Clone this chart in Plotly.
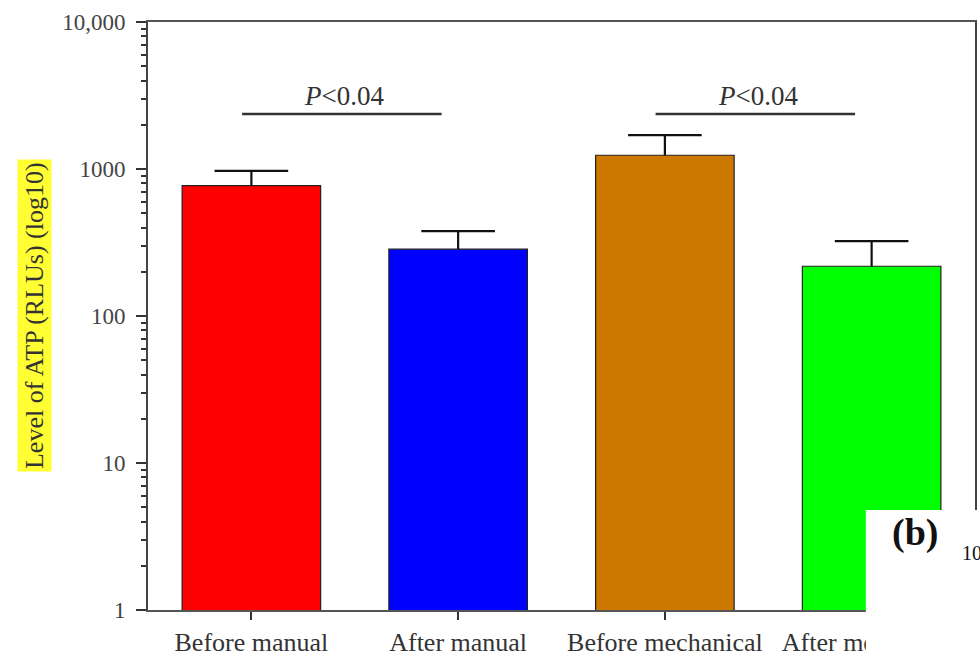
import numpy as np
import plotly.graph_objects as go

# ATP bioluminescence levels before/after cleaning
categories = ["Before manual", "After manual", "Before mechanical", "After mechanical"]
atp_mean = [770, 285, 1240, 218]
atp_err = [200, 93, 460, 105]
bar_colors = ["#FF0000", "#0000FF", "#CC7700", "#00FF00"]

# significance brackets: (start category index, end category index, label)
comparisons = [(0, 1, "P<0.04"), (2, 3, "P<0.04")]
bracket_level = 2370

y_tick_vals = [1, 10, 100, 1000, 10000]
y_tick_text = ["1", "10", "100", "1000", "10,000"]

serif = "Liberation Serif"
xpos = list(range(len(categories)))
cap_half = 0.178

fig = go.Figure()
fig.add_trace(go.Bar(
    x=xpos, y=atp_mean, width=0.67,
    marker=dict(color=bar_colors, line=dict(color="#222222", width=1.2)),
    showlegend=False,
))

# upper-only error bars: stem from the bar top plus a cap
for i, (m, e) in enumerate(zip(atp_mean, atp_err)):
    top = m + e
    fig.add_trace(go.Scatter(
        x=[i, i, None, i - cap_half, i + cap_half],
        y=[m, top, None, top, top],
        mode="lines", line=dict(color="#111111", width=2.2),
        showlegend=False, hoverinfo="skip",
    ))

for i0, i1, label in comparisons:
    fig.add_trace(go.Scatter(
        x=[i0 - 0.045, i1 - 0.08], y=[bracket_level, bracket_level],
        mode="lines", line=dict(color="#333333", width=2.5),
        showlegend=False, hoverinfo="skip",
    ))
    fig.add_annotation(
        x=(i0 + i1) / 2 - 0.05, y=np.log10(bracket_level), xref="x", yref="y",
        text="<i>P</i>&lt;0.04", showarrow=False, yanchor="bottom", yshift=1,
        font=dict(family=serif, size=27, color="#333333"),
    )

# highlighted y-axis title
fig.add_annotation(
    x=-0.159, y=0.5, xref="paper", yref="paper",
    text="Level of ATP (RLUs) (log10)", textangle=-90, showarrow=False,
    font=dict(family=serif, size=26, color="#333333"),
    bgcolor="#FFFF33", borderpad=2,
)

# corner of the neighbouring panel (b)
fig.add_shape(type="rect", xref="paper", yref="paper",
              x0=0.868, x1=1.2, y0=-0.2, y1=0.17,
              fillcolor="white", line=dict(width=0), layer="above")
fig.add_annotation(x=0.897, y=0.172, xref="paper", yref="paper",
                   xanchor="left", yanchor="top",
                   text="<b>(b)</b>", showarrow=False,
                   font=dict(family=serif, size=38, color="#111111"))
fig.add_annotation(x=0.982, y=0.075, xref="paper", yref="paper", xanchor="left",
                   text="10", showarrow=False,
                   font=dict(family=serif, size=20, color="#111111"))

fig.update_xaxes(
    range=[-0.5, 3.5], tickvals=xpos, ticktext=categories,
    ticks="outside", ticklen=8, tickwidth=1.5, tickcolor="#333333",
    showline=True, linecolor="#555555", linewidth=2, mirror=True,
    showgrid=False, zeroline=False,
    tickfont=dict(family=serif, size=26, color="#333333"),
)
fig.update_yaxes(
    type="log", range=[0, 4], tickvals=y_tick_vals, ticktext=y_tick_text,
    ticks="outside", ticklen=10, tickwidth=1.5, tickcolor="#333333",
    minor=dict(ticks="outside", ticklen=5, tickcolor="#333333", dtick="D1", showgrid=False),
    showline=True, linecolor="#444444", linewidth=2, mirror=True,
    showgrid=False, zeroline=False, ticklabelstandoff=6,
    tickfont=dict(family=serif, size=23, color="#444444"),
)

fig.update_layout(
    width=980, height=664,
    margin=dict(l=148, r=3, t=22, b=54),
    plot_bgcolor="white", paper_bgcolor="white",
)

fig.write_html("out.html")
